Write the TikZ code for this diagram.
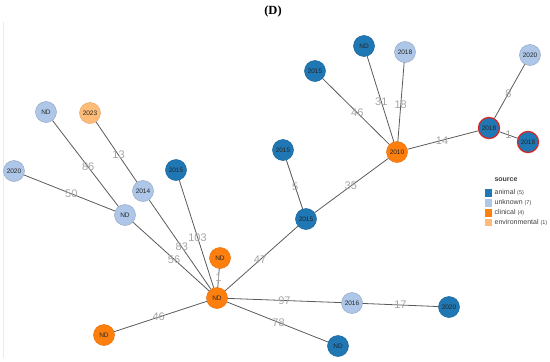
\documentclass[tikz,border=0pt]{standalone}
\usepackage{fontspec}
\setmainfont{Liberation Sans}
\newfontfamily\titlefont{Liberation Serif}
\usetikzlibrary{positioning}
\definecolor{animalBlue}{RGB}{31,119,180}
\definecolor{unknownBlue}{RGB}{174,199,232}
\definecolor{clinicalOrange}{RGB}{255,127,14}
\definecolor{envOrange}{RGB}{255,187,120}
\definecolor{hitRed}{RGB}{214,39,40}
\definecolor{edgeGray}{RGB}{90,90,90}
\definecolor{labelGray}{RGB}{165,165,165}

\begin{document}
\begin{tikzpicture}[x=1pt, y=-1pt,
    dot/.style={circle, minimum size=21pt, inner sep=0pt, line width=0.5pt,
      font=\fontsize{6.5}{7}\selectfont, text=black!85},
    animal/.style={dot, fill=animalBlue, draw=animalBlue!85!black},
    unknown/.style={dot, fill=unknownBlue, draw=unknownBlue!85!black},
    clinical/.style={dot, fill=clinicalOrange, draw=clinicalOrange!90!black},
    environ/.style={dot, fill=envOrange, draw=envOrange!90!black},
    hit/.style={draw=hitRed, line width=1.3pt},
    link/.style={draw=edgeGray, line width=0.8pt},
    wt/.style={text=labelGray, font=\fontsize{11}{12}\selectfont, inner sep=0pt},
    key/.style={minimum size=7.5pt, inner sep=0pt},
    keytext/.style={right=2pt of #1, inner sep=0pt, text=black!75,
      font=\fontsize{7}{8}\selectfont}]
  \useasboundingbox (0,0) rectangle (550,362);
  % faint panel edge
  \draw[black!8] (3,22) -- (3,358);
  \node[font=\titlefont\bfseries\fontsize{12.5}{14}\selectfont] (title) at (273,11) {(D)};

  % left cluster
  \node[unknown] (ndA) at (46,112) {ND};
  \node[environ] (envB) at (90,113) {2023};
  \node[unknown] (unkC) at (14,171) {2020};
  \node[unknown] (unkD) at (143,191) {2014};
  \node[animal] (anE) at (176,170) {2015};
  \node[unknown] (ndF) at (125,215) {ND};
  \node[clinical] (ndG) at (220,258) {ND};
  \node[clinical] (ndH) at (217,298) {ND};
  \node[clinical] (ndI) at (104,335) {ND};
  % lower right
  \node[unknown] (unkJ) at (352,303) {2016};
  \node[animal] (anK) at (449,307) {2020};
  \node[animal] (ndL) at (338,346) {ND};
  % upper right
  \node[animal] (anM) at (306,219) {2015};
  \node[animal] (anN) at (283,150) {2015};
  \node[clinical] (clO) at (397,152) {2010};
  \node[animal] (anP) at (315,71) {2015};
  \node[animal] (ndQ) at (364,46) {ND};
  \node[unknown] (unkR) at (405,52) {2018};
  \node[unknown] (unkS) at (530,55) {2020};
  \node[animal, hit] (anT) at (489,128) {2018};
  \node[animal, hit] (anU) at (528,142) {2018};

  \draw[link] (ndA) -- (ndF) node[wt, pos=0.54] {86};
  \draw[link] (envB) -- (unkD) node[wt, pos=0.55] {13};
  \draw[link] (unkC) -- (ndF) node[wt, pos=0.52] {50};
  \draw[link] (unkD) -- (ndH) node[wt, pos=0.53] {83};
  \draw[link] (ndF) -- (ndH) node[wt, pos=0.54] {56};
  \draw[link] (anE) -- (ndH) node[wt, pos=0.53] {103};
  \draw[link] (ndG) -- (ndH) node[wt, pos=0.5] {1};
  \draw[link] (ndH) -- (anM) node[wt, pos=0.48] {47};
  \draw[link] (ndH) -- (ndI) node[wt, pos=0.52] {46};
  \draw[link] (ndH) -- (unkJ) node[wt, pos=0.5] {97};
  \draw[link] (ndH) -- (ndL) node[wt, pos=0.51] {78};
  \draw[link] (unkJ) -- (anK) node[wt, pos=0.5] {17};
  \draw[link] (anM) -- (anN) node[wt, pos=0.46] {5};
  \draw[link] (anM) -- (clO) node[wt, pos=0.49] {35};
  \draw[link] (clO) -- (anP) node[wt, pos=0.48] {46};
  \draw[link] (clO) -- (ndQ) node[wt, pos=0.47] {31};
  \draw[link] (clO) -- (unkR) node[wt, pos=0.46] {18};
  \draw[link] (clO) -- (anT) node[wt, pos=0.49] {14};
  \draw[link] (anT) -- (unkS) node[wt, pos=0.46] {8};
  \draw[link] (anT) -- (anU) node[wt, pos=0.5] {1};

  % legend
  \node[font=\bfseries\fontsize{7}{8}\selectfont, text=black!75] (legTitle) at (506,180) {source};
  \node[key, fill=animalBlue] (keyA) at (488.5,193) {};
  \node[key, fill=unknownBlue, below=2pt of keyA] (keyU) {};
  \node[key, fill=clinicalOrange, below=2pt of keyU] (keyC) {};
  \node[key, fill=envOrange, below=2pt of keyC] (keyE) {};
  \node[keytext=keyA] (txtA) {animal {\fontsize{5.5}{6}\selectfont (5)}};
  \node[keytext=keyU] (txtU) {unknown {\fontsize{5.5}{6}\selectfont (7)}};
  \node[keytext=keyC] (txtC) {clinical {\fontsize{5.5}{6}\selectfont (4)}};
  \node[keytext=keyE] (txtE) {environmental {\fontsize{5.5}{6}\selectfont (1)}};
\end{tikzpicture}
\end{document}
